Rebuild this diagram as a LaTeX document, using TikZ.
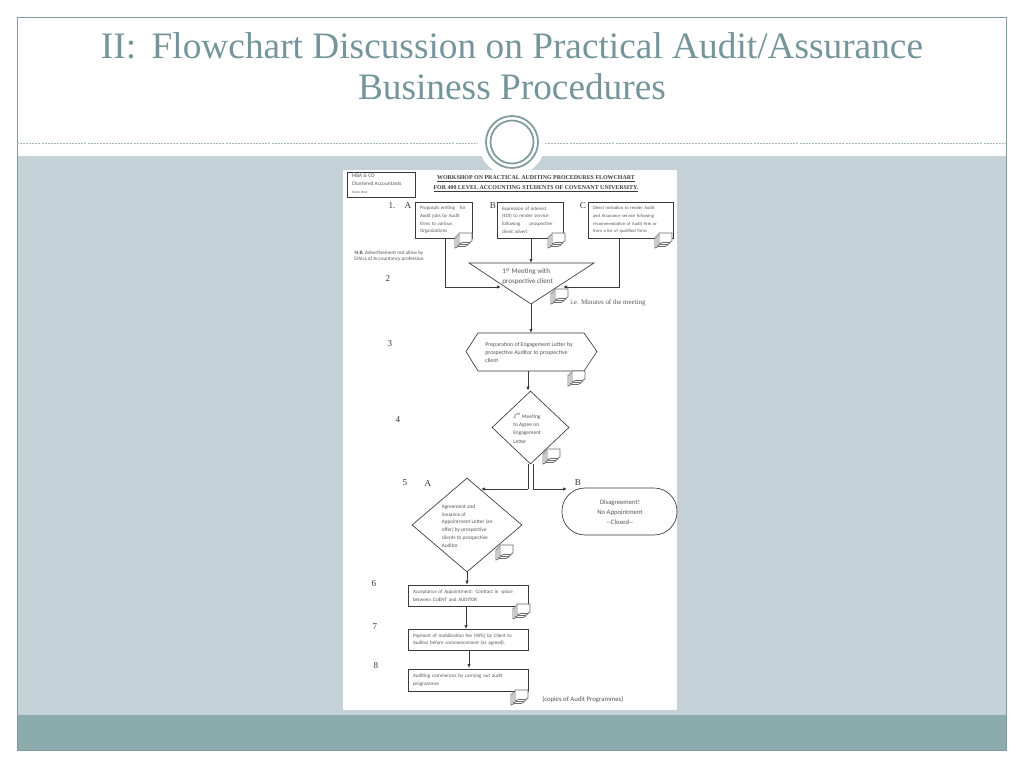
\documentclass[tikz,border=0pt]{standalone}
\usepackage{fontspec}
\setmainfont{Liberation Serif}
\newfontfamily\bodyfont{Carlito}
\usetikzlibrary{arrows.meta,shapes,positioning,calc}

\definecolor{bandgray}{HTML}{C4D2D8}
\definecolor{bandteal}{HTML}{8BABAC}
\definecolor{titleteal}{HTML}{75959A}
\definecolor{ringteal}{HTML}{7F9A9C}
\definecolor{inkgray}{HTML}{3A3A3A}
\definecolor{textgray}{HTML}{555555}

\def\u{0.75pt}

\tikzset{
  flow/.style={inkgray, line width=0.6pt, -{Latex[length=3pt,width=2.6pt]}},
  link/.style={inkgray, line width=0.6pt},
  shapeline/.style={draw=inkgray, line width=0.5pt},
  procbox/.style 2 args={shapeline, fill=white, minimum width=#1*\u, minimum height=#2*\u, inner sep=0pt, text width=(#1-10)*\u, align=left},
  decide/.style 2 args={shapeline, diamond, aspect=1, minimum width=#1*\u, minimum height=#2*\u, inner sep=0pt},
  boxtext/.style={text=textgray, inner sep=0pt, align=left, font=\bodyfont\fontsize{3.7}{5.75}\selectfont},
  steplabel/.style={text=inkgray, inner sep=0pt, font=\fontsize{6.8}{7}\selectfont},
  docstack/.pic={
    \foreach \d in {4,2,0}
      \draw[inkgray!75, line width=0.55pt, fill=white] (5-\d,\d) -- (18-\d,\d) -- (18-\d,8+\d) .. controls (14-\d,12+\d) and (10-\d,7+\d) .. (5-\d,11+\d) -- cycle;
  }
}

\begin{document}
\begin{tikzpicture}[x=\u, y=-\u]
  \useasboundingbox (0,0) rectangle (1024,768);

  % Draw slide frame and bands
  \fill[bandgray] (17,156) rectangle (1006,715);
  \fill[bandteal] (17,715) rectangle (1006,750);
  \draw[ringteal, line width=0.5pt] (17,17) rectangle (1006,750);
  \draw[ringteal!70, line width=0.4pt, dash pattern=on 1.5pt off 0.8pt] (17,143) -- (478,143);
  \draw[ringteal!70, line width=0.4pt, dash pattern=on 1.5pt off 0.8pt] (545,143) -- (1006,143);
  \fill[white] (512,142) circle (33.5*\u);
  \draw[ringteal, line width=1.3pt] (512,142) circle (26*\u);
  \draw[ringteal, line width=1.3pt] (512,142) circle (21.5*\u);

  % Title
  \node[text=titleteal, align=center, inner sep=0pt, font=\fontsize{28}{30.5}\selectfont] (title) at (512,66)
    {II:\, Flowchart Discussion on Practical Audit/Assurance\\Business Procedures};

  % Sheet
  \fill[white] (343,170) rectangle (677,710);

  % Header
  \node[shapeline, minimum width=68*\u, minimum height=25*\u, inner sep=0pt] (firm) at (381,184.5) {};
  \node[boxtext, anchor=west, font=\bodyfont\fontsize{4}{6}\selectfont] (firmtext) at (351.5,184)
    {MBA \& CO\\Chartered Accountants\\{\fontsize{2.4}{3}\selectfont March 2016}};
  \node[inner sep=0pt, text=inkgray, align=center, font=\bfseries\fontsize{4.45}{7.5}\selectfont] (heading) at (536,184)
    {\underline{WORKSHOP ON PRACTICAL AUDITING PROCEDURES FLOWCHART}\\\underline{FOR 400 LEVEL ACCOUNTING STUDENTS OF COVENANT UNIVERSITY.}};

  % Step numbers and letters
  \foreach \name/\lx/\ly/\lab in {one/392/206/1., lA/408/206/A, lB/493/206/B, lC/583/206/C, two/388/278/2, three/390/344/3, four/398/420/4, five/405/483/5, fiveA/428/483/A, fiveB/578/483/B, six/374/584/6, seven/375/627/7, eight/376/666/8}
    \node[steplabel] (\name) at (\lx,\ly) {\lab};

  \node[boxtext, text=textgray, align=center, font=\bodyfont\fontsize{3.9}{4.6}\selectfont] (note) at (389,256.5)
    {\textbf{N.B.} Advertisement not allow by\\Ethics of Accountancy profession};

  % Entry boxes
  \node[procbox={57}{36}, boxtext, inner sep=0pt] (boxA) at (443.5,220) {Proposals writing\ \ \ for\\Audit jobs by Audit\\firms to various\\Organizations};
  \node[procbox={66}{36}, boxtext, inner sep=0pt] (boxB) at (530,220) {Expression of interest\\(EOI) to render service\\following\hspace{1.8em}prospective\\client advert};
  \node[procbox={85}{36}, boxtext, inner sep=0pt, font=\bodyfont\fontsize{3.45}{5.75}\selectfont] (boxC) at (630.5,220) {Direct invitation to render Audit\\and Assurance service following\\recommendation of Audit firm or\\from a list of qualified firms};

  % First meeting triangle
  \coordinate (mtgL) at (469,263);
  \coordinate (mtgR) at (594,263);
  \coordinate (mtgB) at (531,304);
  \coordinate (mtgT) at (531,263);
  \coordinate (mtgInA) at (501,287);
  \coordinate (mtgInC) at (563,287);
  \coordinate (boxAout) at (445,238);
  \coordinate (boxCout) at (619,238);
  \draw[shapeline] (mtgL) -- (mtgR) -- (mtgB) -- cycle;
  \node[boxtext, anchor=west, font=\bodyfont\fontsize{5.3}{7.4}\selectfont] (mtgtext) at (502,276.5) {1\textsuperscript{st} Meeting with\\prospective client};
  \node[boxtext, anchor=west, font=\fontsize{5.2}{6}\selectfont] (minutes) at (570,303) {i.e. Minutes of the meeting};

  % Engagement letter hexagon
  \coordinate (hexT) at (531,333);
  \coordinate (hexOut) at (528,371);
  \draw[shapeline] (466,351.5) -- (478,333) -- (584,333) -- (597,351.5) -- (584,371) -- (478,371) -- cycle;
  \node[boxtext, anchor=west, font=\bodyfont\fontsize{4.4}{6.2}\selectfont] (hextext) at (485,352.5) {Preparation of\ Engagement Letter by\\prospective Auditor to prospective\\client};

  % Second meeting diamond
  \node[decide={77}{73}] (meet) at (530.5,427.5) {};
  \node[boxtext, anchor=west, font=\bodyfont\fontsize{4.1}{6.2}\selectfont] (meettext) at (513,428) {2\textsuperscript{nd} Meeting\\to Agree on\\Engagement\\Letter};

  % Appointment diamond
  \node[decide={110}{94}] (agree) at (467,525) {};
  \node[boxtext, anchor=west, font=\bodyfont\fontsize{4}{5.8}\selectfont] (agreetext) at (441.5,526) {Agreement and\\issuance of\\Appointment Letter (an\\offer) by prospective\\clients to prospective\\Auditor};
  \coordinate (agreeIn) at (481,489);

  % Disagreement terminator
  \node[shapeline, rounded corners=23*\u, minimum width=115*\u, minimum height=47*\u, inner sep=0pt] (closed) at (619.5,511.5) {};
  \node[boxtext, align=center, font=\bodyfont\fontsize{5}{7.6}\selectfont] (closedtext) at (620,512) {Disagreement!\\No Appointment\\--Closed--};
  \coordinate (closedIn) at (567,489);

  % Lower boxes
  \node[procbox={120}{21}, boxtext, inner sep=0pt, font=\bodyfont\fontsize{3.8}{5.75}\selectfont] (accept) at (468,595.5) {Acceptance of Appointment: Contract in -place\\between CLIENT and AUDITOR};
  \node[procbox={120}{21}, boxtext, inner sep=0pt, font=\bodyfont\fontsize{3.8}{5.75}\selectfont] (pay) at (468,639.5) {Payment of mobilization fee (40\%) by Client to\\Auditor before commencement (as agreed).};
  \node[procbox={120}{22}, boxtext, inner sep=0pt, font=\bodyfont\fontsize{3.8}{5.75}\selectfont] (commence) at (468,680) {Auditing commences by carrying out audit\\programmes};
  \node[boxtext, anchor=west, font=\bodyfont\fontsize{5.05}{6}\selectfont] (copies) at (542,700) {(copies of Audit Programmes)};

  % Draw connectors
  \draw[flow] (boxB.south -| mtgT) -- (mtgT);
  \draw[flow] (boxAout) |- (mtgInA);
  \draw[flow] (boxCout) |- (mtgInC);
  \draw[flow] (mtgB) -- (hexT);
  \draw[flow] (hexOut) -- (meet.north -| hexOut);
  \draw[link] (528,464) -- (528,489);
  \draw[flow] (528,489) -- (agreeIn);
  \draw[link] (533,464) -- (533,489);
  \draw[flow] (533,489) -- (closedIn);
  \draw[flow] (agree.south) -- (agree.south |- accept.north);
  \draw[flow] (466,606) -- (466,629);
  \draw[flow] (469,650) -- (469,668);

  % Draw document icons
  \foreach \ix/\iy in {454/233, 547/233, 654/233, 550/289, 567/371, 542/449, 495/545, 512/604, 510/690}
    \pic at (\ix,\iy) {docstack};
\end{tikzpicture}
\end{document}
